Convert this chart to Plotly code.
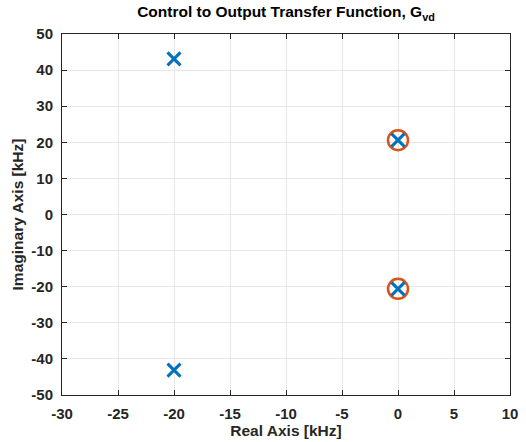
import plotly.graph_objects as go

# Pole and zero locations in kHz
pole_re = [-20.0, -20.0, 0.0, 0.0]
pole_im = [43.1, -43.1, 20.6, -20.6]
zero_re = [0.0, 0.0]
zero_im = [20.6, -20.6]

x_ticks = [-30, -25, -20, -15, -10, -5, 0, 5, 10]
y_ticks = [-50, -40, -30, -20, -10, 0, 10, 20, 30, 40, 50]

font = "Liberation Sans, Arial, Helvetica, sans-serif"
ink = "#262626"

fig = go.Figure()
fig.add_trace(go.Scatter(
    x=zero_re, y=zero_im, mode="markers",
    marker=dict(symbol="circle-open", size=20, color="#D95319",
                line=dict(width=2.5, color="#D95319")),
    name="Zeros"))
fig.add_trace(go.Scatter(
    x=pole_re, y=pole_im, mode="markers",
    marker=dict(symbol="x-thin-open", size=13, color="#0072BD",
                line=dict(width=3, color="#0072BD")),
    name="Poles"))

axis_common = dict(
    showline=True, linecolor=ink, linewidth=1, mirror="ticks",
    ticks="inside", ticklen=5, tickcolor=ink,
    showgrid=True, gridcolor="#E6E6E6", gridwidth=1, zeroline=False,
    automargin=False,
    tickfont=dict(family=font, size=15, color=ink, weight="bold"),
)

fig.update_xaxes(range=[-30, 10], tickvals=x_ticks, ticktext=[str(v) for v in x_ticks],
                 ticklabelstandoff=5,
                 title=dict(text="Real Axis [kHz]",
                            font=dict(family=font, size=15.5, color=ink, weight="bold"),
                            standoff=4),
                 **axis_common)
fig.update_yaxes(range=[-50, 50], tickvals=y_ticks, ticktext=[str(v) for v in y_ticks],
                 ticklabelstandoff=5,
                 title=dict(text="Imaginary Axis [kHz]",
                            font=dict(family=font, size=15.5, color=ink, weight="bold"),
                            standoff=3),
                 **axis_common)

fig.update_layout(
    width=526, height=442,
    margin=dict(l=62, r=16, t=34, b=47),
    plot_bgcolor="white", paper_bgcolor="white",
    showlegend=False,
    title=dict(text="Control to Output Transfer Function, G<sub>vd</sub>",
               x=0.5, xanchor="center", xref="paper", y=0.985, yanchor="top",
               font=dict(family=font, size=15.5, color="black", weight="bold")),
)

fig.write_html("out.html")
